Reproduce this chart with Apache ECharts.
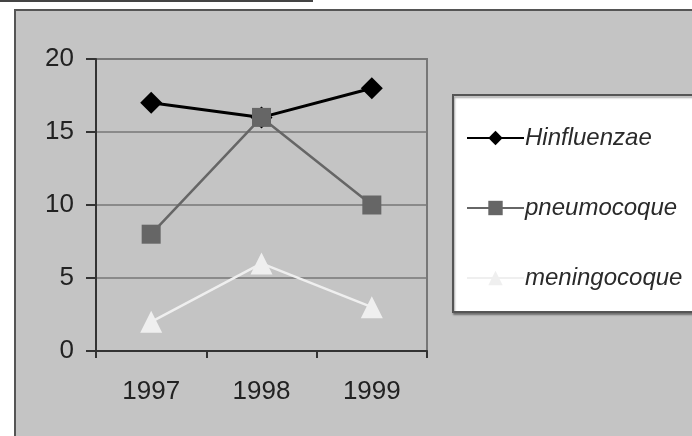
<!DOCTYPE html>
<html>
<head>
<meta charset="utf-8">
<script src="https://cdn.jsdelivr.net/npm/echarts@6/dist/echarts.min.js"></script>
<style>html,body{margin:0;padding:0;background:#fff;}#c{width:692px;height:436px;}</style>
</head>
<body>
<div id="c"></div>
<script>
var years = ['1997', '1998', '1999'];
var seriesNames = ['Hinfluenzae', 'pneumocoque', 'meningocoque'];
var hinfluenzae = [17, 16, 18];
var pneumocoque = [8, 16, 10];
var meningocoque = [2, 6, 3];
var yTicks = {min: 0, max: 20, interval: 5};

var chart = echarts.init(document.getElementById('c'), null, {renderer: 'canvas'});
var font = '"Liberation Sans", Arial, sans-serif';
chart.setOption({
  animation: false,
  backgroundColor: '#ffffff',
  graphic: [
    {type: 'rect', z: -10, shape: {x: 15, y: 10, width: 700, height: 450},
      style: {fill: '#c4c4c4', stroke: '#555555', lineWidth: 2}},
    {type: 'line', z: -10, shape: {x1: 0, y1: 1, x2: 313, y2: 1},
      style: {stroke: '#444444', lineWidth: 2}},
    {type: 'rect', z: -5, shape: {x: 453, y: 95, width: 260, height: 217},
      style: {fill: '#ffffff', stroke: '#555555', lineWidth: 2, shadowColor: 'rgba(0,0,0,0.35)', shadowOffsetX: 1, shadowOffsetY: 2, shadowBlur: 2}}
  ],
  grid: {left: 96, right: 265, top: 59, bottom: 85, show: true, borderColor: '#777777', borderWidth: 2, backgroundColor: 'transparent'},
  legend: {
    orient: 'vertical', left: 461, top: 121, itemGap: 46, itemWidth: 57, itemHeight: 18,
    textStyle: {fontFamily: font, fontStyle: 'italic', fontSize: 24, color: '#2a2a2a', padding: [0, 0, 0, -4]},
    data: seriesNames
  },
  xAxis: {
    type: 'category', data: years, boundaryGap: true,
    axisLine: {lineStyle: {color: '#333333', width: 2}},
    axisTick: {show: true, length: 7, lineStyle: {color: '#333333', width: 2}},
    axisLabel: {fontFamily: font, fontSize: 26, color: '#222222', margin: 28}
  },
  yAxis: {
    type: 'value', min: yTicks.min, max: yTicks.max, interval: yTicks.interval,
    axisLine: {show: true, lineStyle: {color: '#333333', width: 2}},
    axisTick: {show: true, length: 10, lineStyle: {color: '#333333', width: 2}},
    axisLabel: {fontFamily: font, fontSize: 26, color: '#222222', margin: 22},
    splitLine: {lineStyle: {color: '#777777', width: 1.5}}
  },
  series: [
    {name: seriesNames[0], type: 'line', data: hinfluenzae, symbol: 'diamond', symbolSize: 22,
      lineStyle: {color: '#000000', width: 3}, itemStyle: {color: '#000000'}, z: 3},
    {name: seriesNames[1], type: 'line', data: pneumocoque, symbol: 'rect', symbolSize: 19,
      lineStyle: {color: '#666666', width: 2.5}, itemStyle: {color: '#666666'}, z: 4},
    {name: seriesNames[2], type: 'line', data: meningocoque, symbol: 'triangle', symbolSize: 22,
      lineStyle: {color: '#efefef', width: 2.5}, itemStyle: {color: '#efefef'}, z: 2}
  ]
});
</script>
</body>
</html>
